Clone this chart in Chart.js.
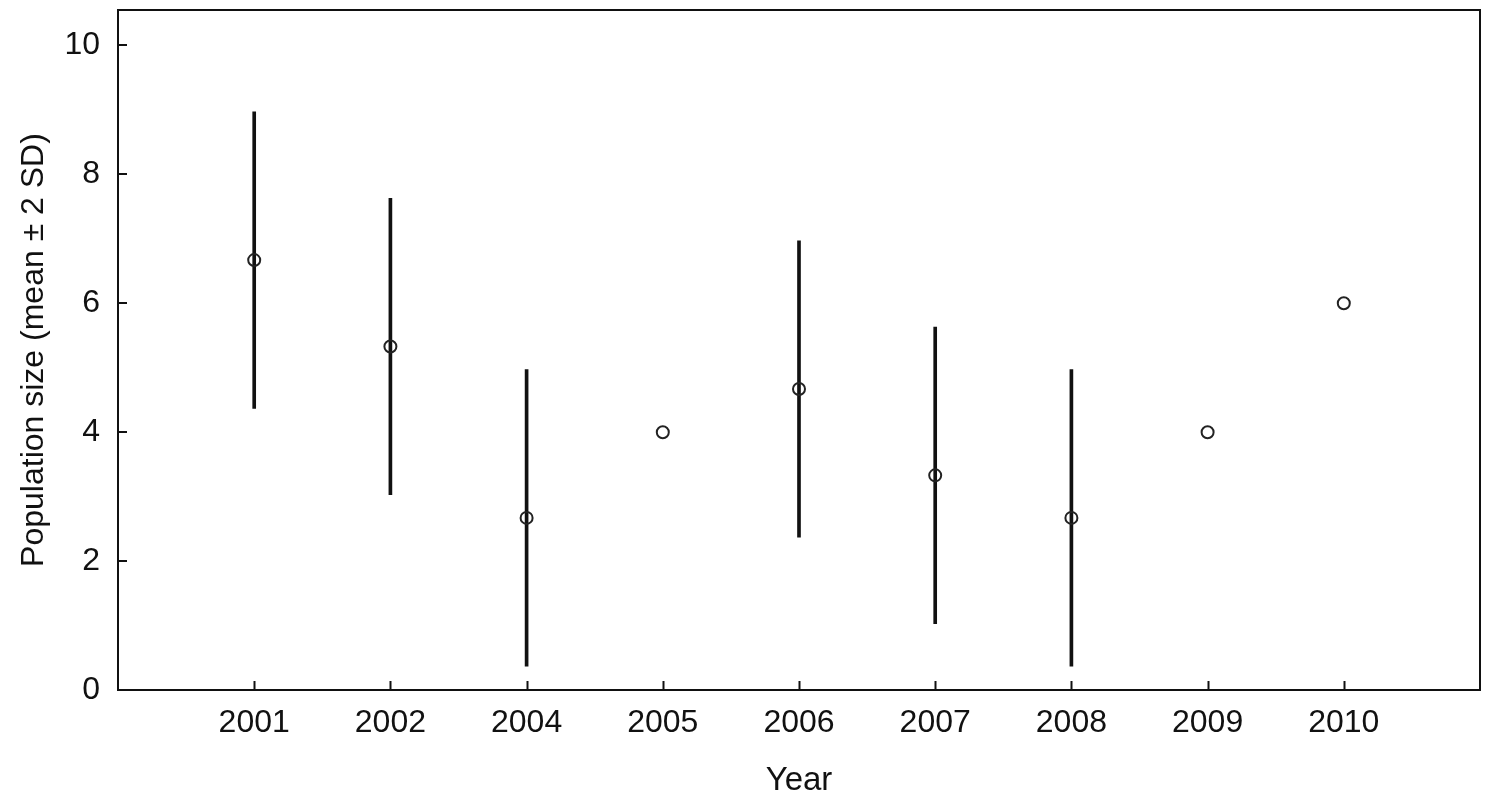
<!DOCTYPE html>
<html>
<head>
<meta charset="utf-8">
<script src="https://cdn.jsdelivr.net/npm/chart.js@4/dist/chart.umd.min.js"></script>
<style>
html,body{margin:0;padding:0;background:#fff;}
#wrap{width:1504px;height:801px;}
</style>
</head>
<body>
<div id="wrap"><canvas id="c" width="1504" height="801"></canvas></div>
<script>
const years = ['', '2001', '2002', '2004', '2005', '2006', '2007', '2008', '2009', '2010', ''];
const means = [null, 6.67, 5.33, 2.67, 4.0, 4.67, 3.33, 2.67, 4.0, 6.0, null];
const lower = [null, 4.37, 3.03, 0.37, null, 2.37, 1.03, 0.37, null, null, null];
const upper = [null, 8.97, 7.63, 4.97, null, 6.97, 5.63, 4.97, null, null, null];
const yTicks = [0, 2, 4, 6, 8, 10];
const yMax = 10.55;

const errData = lower.map((l, i) => (l === null ? null : [l, upper[i]]));
const FONT = 'Liberation Sans, Arial, sans-serif';

const framePlugin = {
  id: 'frame',
  afterDraw(chart) {
    const {ctx, chartArea: a, scales} = chart;
    ctx.save();
    ctx.strokeStyle = '#111';
    ctx.lineWidth = 2;
    ctx.strokeRect(a.left, a.top, a.right - a.left, a.bottom - a.top);
    const tl = 9;
    scales.x.ticks.forEach((t, i) => {
      if (!years[i]) return;
      const px = Math.round(scales.x.getPixelForTick(i)) + 0.5;
      ctx.beginPath(); ctx.moveTo(px, a.bottom); ctx.lineTo(px, a.bottom - tl); ctx.stroke();
    });
    scales.y.ticks.forEach((t, i) => {
      const py = Math.round(scales.y.getPixelForTick(i));
      ctx.beginPath(); ctx.moveTo(a.left, py); ctx.lineTo(a.left + tl, py); ctx.stroke();
    });
    ctx.restore();
  }
};

new Chart(document.getElementById('c'), {
  data: {
    labels: years,
    datasets: [
      {
        type: 'line',
        data: means,
        showLine: false,
        pointRadius: 6,
        pointBorderWidth: 2,
        pointBorderColor: '#222',
        pointBackgroundColor: 'rgba(255,255,255,0)',
        order: 0
      },
      {
        type: 'bar',
        data: errData,
        backgroundColor: '#111',
        borderWidth: 0,
        barThickness: 3,
        order: 1
      }
    ]
  },
  options: {
    responsive: false,
    animation: false,
    events: [],
    layout: {padding: {top: 10, right: 24, left: 0, bottom: 0}},
    plugins: {legend: {display: false}, tooltip: {enabled: false}},
    scales: {
      x: {
        type: 'category',
        offset: false,
        grid: {display: false, drawTicks: false},
        border: {display: false},
        ticks: {autoSkip: false, maxRotation: 0, minRotation: 0, padding: 14, color: '#111', font: {family: FONT, size: 32}},
        title: {display: true, text: 'Year', color: '#111', font: {family: FONT, size: 33}, padding: {top: 13, bottom: 0}},
        afterFit: s => { s.height = 111; s.paddingLeft = 0; s.paddingRight = 0; }
      },
      y: {
        type: 'linear',
        min: 0,
        max: yMax,
        grid: {display: false, drawTicks: false},
        border: {display: false},
        afterBuildTicks: s => { s.ticks = yTicks.map(v => ({value: v})); },
        ticks: {padding: 18, color: '#111', font: {family: FONT, size: 32}},
        title: {display: true, text: 'Population size (mean ± 2 SD)', color: '#111', font: {family: FONT, size: 32}, padding: {top: 15, bottom: 0}},
        afterFit: s => { s.width = 118; s.paddingTop = 0; s.paddingBottom = 0; }
      }
    }
  },
  plugins: [framePlugin]
});
</script>
</body>
</html>
